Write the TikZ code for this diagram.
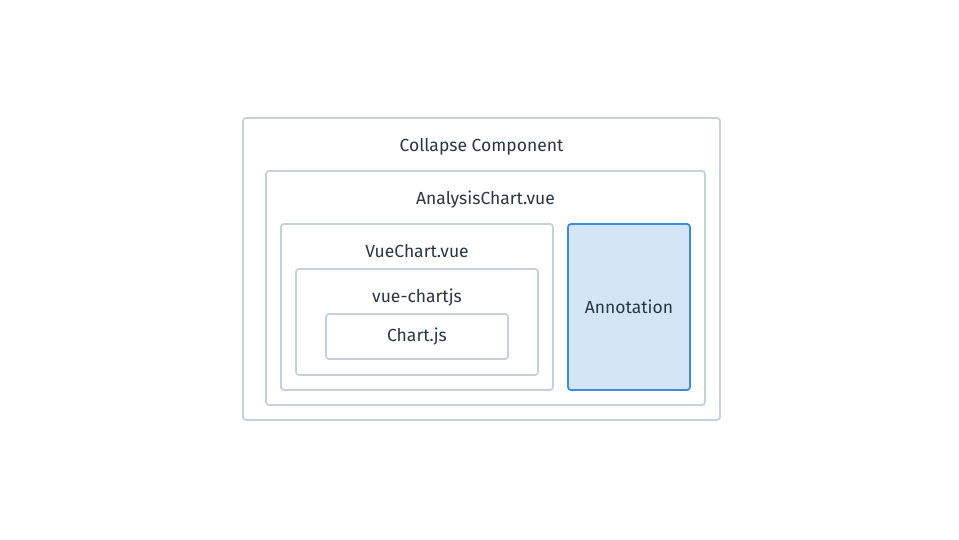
\documentclass[tikz,border=0pt]{standalone}
\usepackage{fontspec}
\setmainfont{Fira Sans}
\usetikzlibrary{positioning}
\definecolor{frame}{HTML}{C6D1DB}
\definecolor{ink}{HTML}{2B3644}
\definecolor{annofill}{HTML}{D4E5F6}
\definecolor{annoline}{HTML}{3A8EE0}
\tikzset{
  layer/.style={draw=frame, line width=1.8pt, rounded corners=3pt, fill=white},
  caption/.style={text=ink, font=\fontsize{17.5}{20}\selectfont, inner sep=0pt},
}

\begin{document}
\begin{tikzpicture}[x=1pt, y=-1pt]
\useasboundingbox (0,0) rectangle (959,540);
\node[layer, minimum width=477pt, minimum height=302pt] (collapse) at (481.5,269) {};
\node[layer, minimum width=439pt, minimum height=234pt] (analysis) at (485.5,288) {};
\node[layer, minimum width=272pt, minimum height=166pt] (vuechart) at (417,307) {};
\node[layer, minimum width=242pt, minimum height=106pt] (vuechartjs) at (417,322) {};
\node[layer, minimum width=182pt, minimum height=45pt] (chartjs) at (417,336.5) {};
\node[layer, draw=annoline, fill=annofill, minimum width=122pt, minimum height=166pt] (annotation) at (629,307) {};
%% captions
\node[caption] (collapse-cap) at (481.5,146.5) {Collapse Component};
\node[caption] (analysis-cap) at (485.5,199.5) {AnalysisChart.vue};
\node[caption] (vuechart-cap) at (417,251.5) {VueChart.vue};
\node[caption] (vuechartjs-cap) at (417,297.5) {vue-chartjs};
\node[caption] (chartjs-cap) at (chartjs) {Chart.js};
\node[caption] (annotation-cap) at (annotation) {Annotation};
\end{tikzpicture}
\end{document}
